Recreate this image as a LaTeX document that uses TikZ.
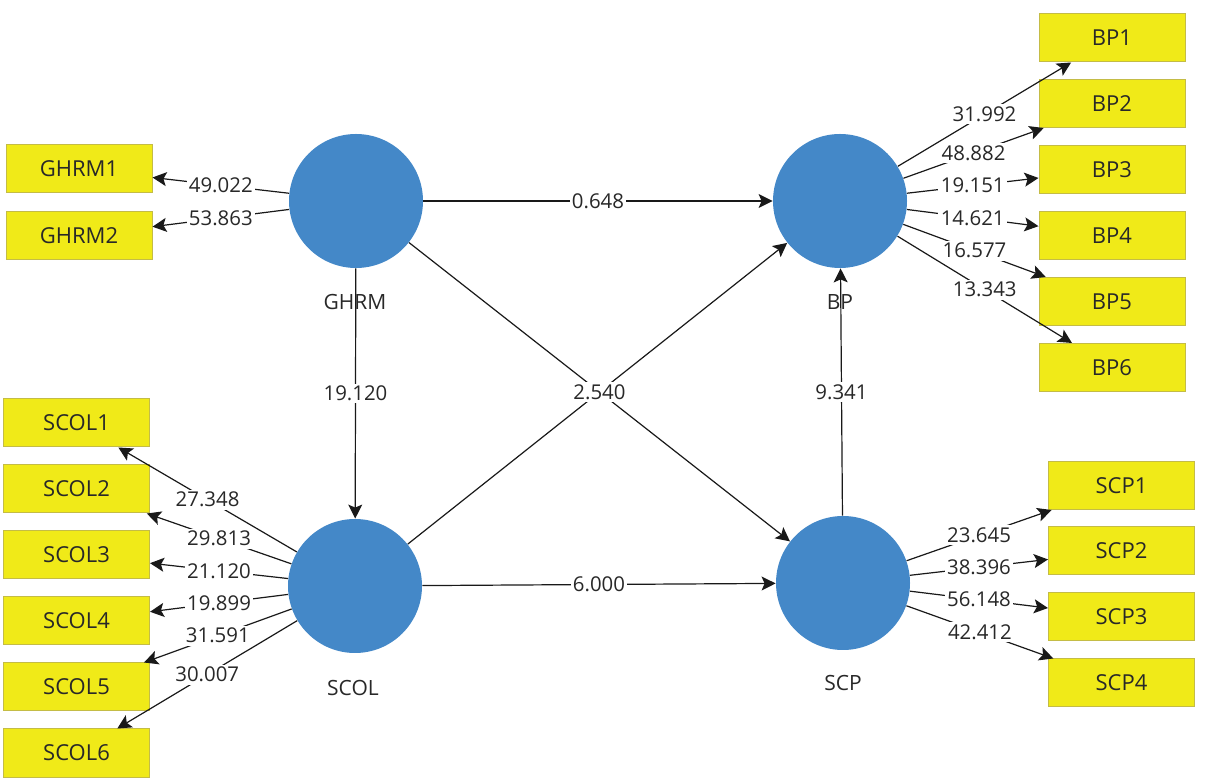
\documentclass[tikz,border=0pt]{standalone}
\usepackage{fontspec}
\setmainfont{Open Sans}
\usetikzlibrary{arrows.meta}
\definecolor{lvblue}{RGB}{68,136,200}
\definecolor{mvyellow}{RGB}{240,234,24}
\definecolor{mvborder}{RGB}{196,188,70}
\definecolor{txt}{RGB}{40,40,40}
\tikzset{
  latent/.style={circle,fill=lvblue,draw=none,minimum size=67pt,inner sep=0pt},
  manifest/.style={rectangle,fill=mvyellow,draw=mvborder,line width=0.5pt,minimum width=73pt,minimum height=24pt,inner sep=0pt,text=txt,font=\fontsize{11}{13}\selectfont},
  lvname/.style={text=txt,font=\fontsize{10.5}{12}\selectfont,inner sep=0pt},
  conn/.style={draw=black!90,line width=0.6pt,-{Stealth[length=7pt,width=7pt,inset=1.5pt]}},
  val/.style={midway,fill=white,inner sep=1.2pt,text=txt,font=\fontsize{10.2}{12}\selectfont}
}
\begin{document}
\begin{tikzpicture}[x=0.5pt,y=-0.5pt]
\useasboundingbox (0,0) rectangle (1215,779);
\fill[white] (0,0) rectangle (1215,779);
% latent variables
\node[latent] (GHRM) at (356,201) {};
\node[latent] (BP) at (840,201) {};
\node[latent] (SCOL) at (355,586) {};
\node[latent] (SCP) at (843,583) {};
% indicators
\node[manifest] (GHRM1) at (79,169) {GHRM1};
\node[manifest] (GHRM2) at (79,236) {GHRM2};
\node[manifest] (BP1) at (1112,38) {BP1};
\node[manifest] (BP2) at (1112,103.5) {BP2};
\node[manifest] (BP3) at (1112,169.5) {BP3};
\node[manifest] (BP4) at (1112,235.5) {BP4};
\node[manifest] (BP5) at (1112,301.5) {BP5};
\node[manifest] (BP6) at (1112,367.5) {BP6};
\node[manifest] (SCOL1) at (76.5,423) {SCOL1};
\node[manifest] (SCOL2) at (76.5,489) {SCOL2};
\node[manifest] (SCOL3) at (76.5,555) {SCOL3};
\node[manifest] (SCOL4) at (76.5,621) {SCOL4};
\node[manifest] (SCOL5) at (76.5,687) {SCOL5};
\node[manifest] (SCOL6) at (76.5,753) {SCOL6};
\node[manifest] (SCP1) at (1121.5,485.5) {SCP1};
\node[manifest] (SCP2) at (1121.5,551) {SCP2};
\node[manifest] (SCP3) at (1121.5,617) {SCP3};
\node[manifest] (SCP4) at (1121.5,683) {SCP4};
% structural paths
\draw[conn] (GHRM) -- (SCOL) node[val] {19.120};
\draw[conn] (SCP) -- (BP) node[val] {9.341};
\draw[conn] (GHRM) -- (BP) node[val] {0.648};
\draw[conn] (SCOL) -- (SCP) node[val] {6.000};
\draw[conn] (SCOL) -- (BP);
\draw[conn] (GHRM) -- (SCP) node[val] {2.540};
% latent names
\node[lvname] (GHRMn) at (355,302) {GHRM};
\node[lvname] (BPn) at (840,302) {BP};
\node[lvname] (SCOLn) at (353,688) {SCOL};
\node[lvname] (SCPn) at (843,683) {SCP};
% outer loadings
\draw[conn] (GHRM) -- (GHRM1) node[val] {49.022};
\draw[conn] (GHRM) -- (GHRM2) node[val] {53.863};
\draw[conn] (BP) -- (BP1) node[val] {31.992};
\draw[conn] (BP) -- (BP2) node[val] {48.882};
\draw[conn] (BP) -- (BP3) node[val] {19.151};
\draw[conn] (BP) -- (BP4) node[val] {14.621};
\draw[conn] (BP) -- (BP5) node[val] {16.577};
\draw[conn] (BP) -- (BP6) node[val] {13.343};
\draw[conn] (SCOL) -- (SCOL1) node[val] {27.348};
\draw[conn] (SCOL) -- (SCOL2) node[val] {29.813};
\draw[conn] (SCOL) -- (SCOL3) node[val] {21.120};
\draw[conn] (SCOL) -- (SCOL4) node[val] {19.899};
\draw[conn] (SCOL) -- (SCOL5) node[val] {31.591};
\draw[conn] (SCOL) -- (SCOL6) node[val] {30.007};
\draw[conn] (SCP) -- (SCP1) node[val] {23.645};
\draw[conn] (SCP) -- (SCP2) node[val] {38.396};
\draw[conn] (SCP) -- (SCP3) node[val] {56.148};
\draw[conn] (SCP) -- (SCP4) node[val] {42.412};
\end{tikzpicture}
\end{document}
